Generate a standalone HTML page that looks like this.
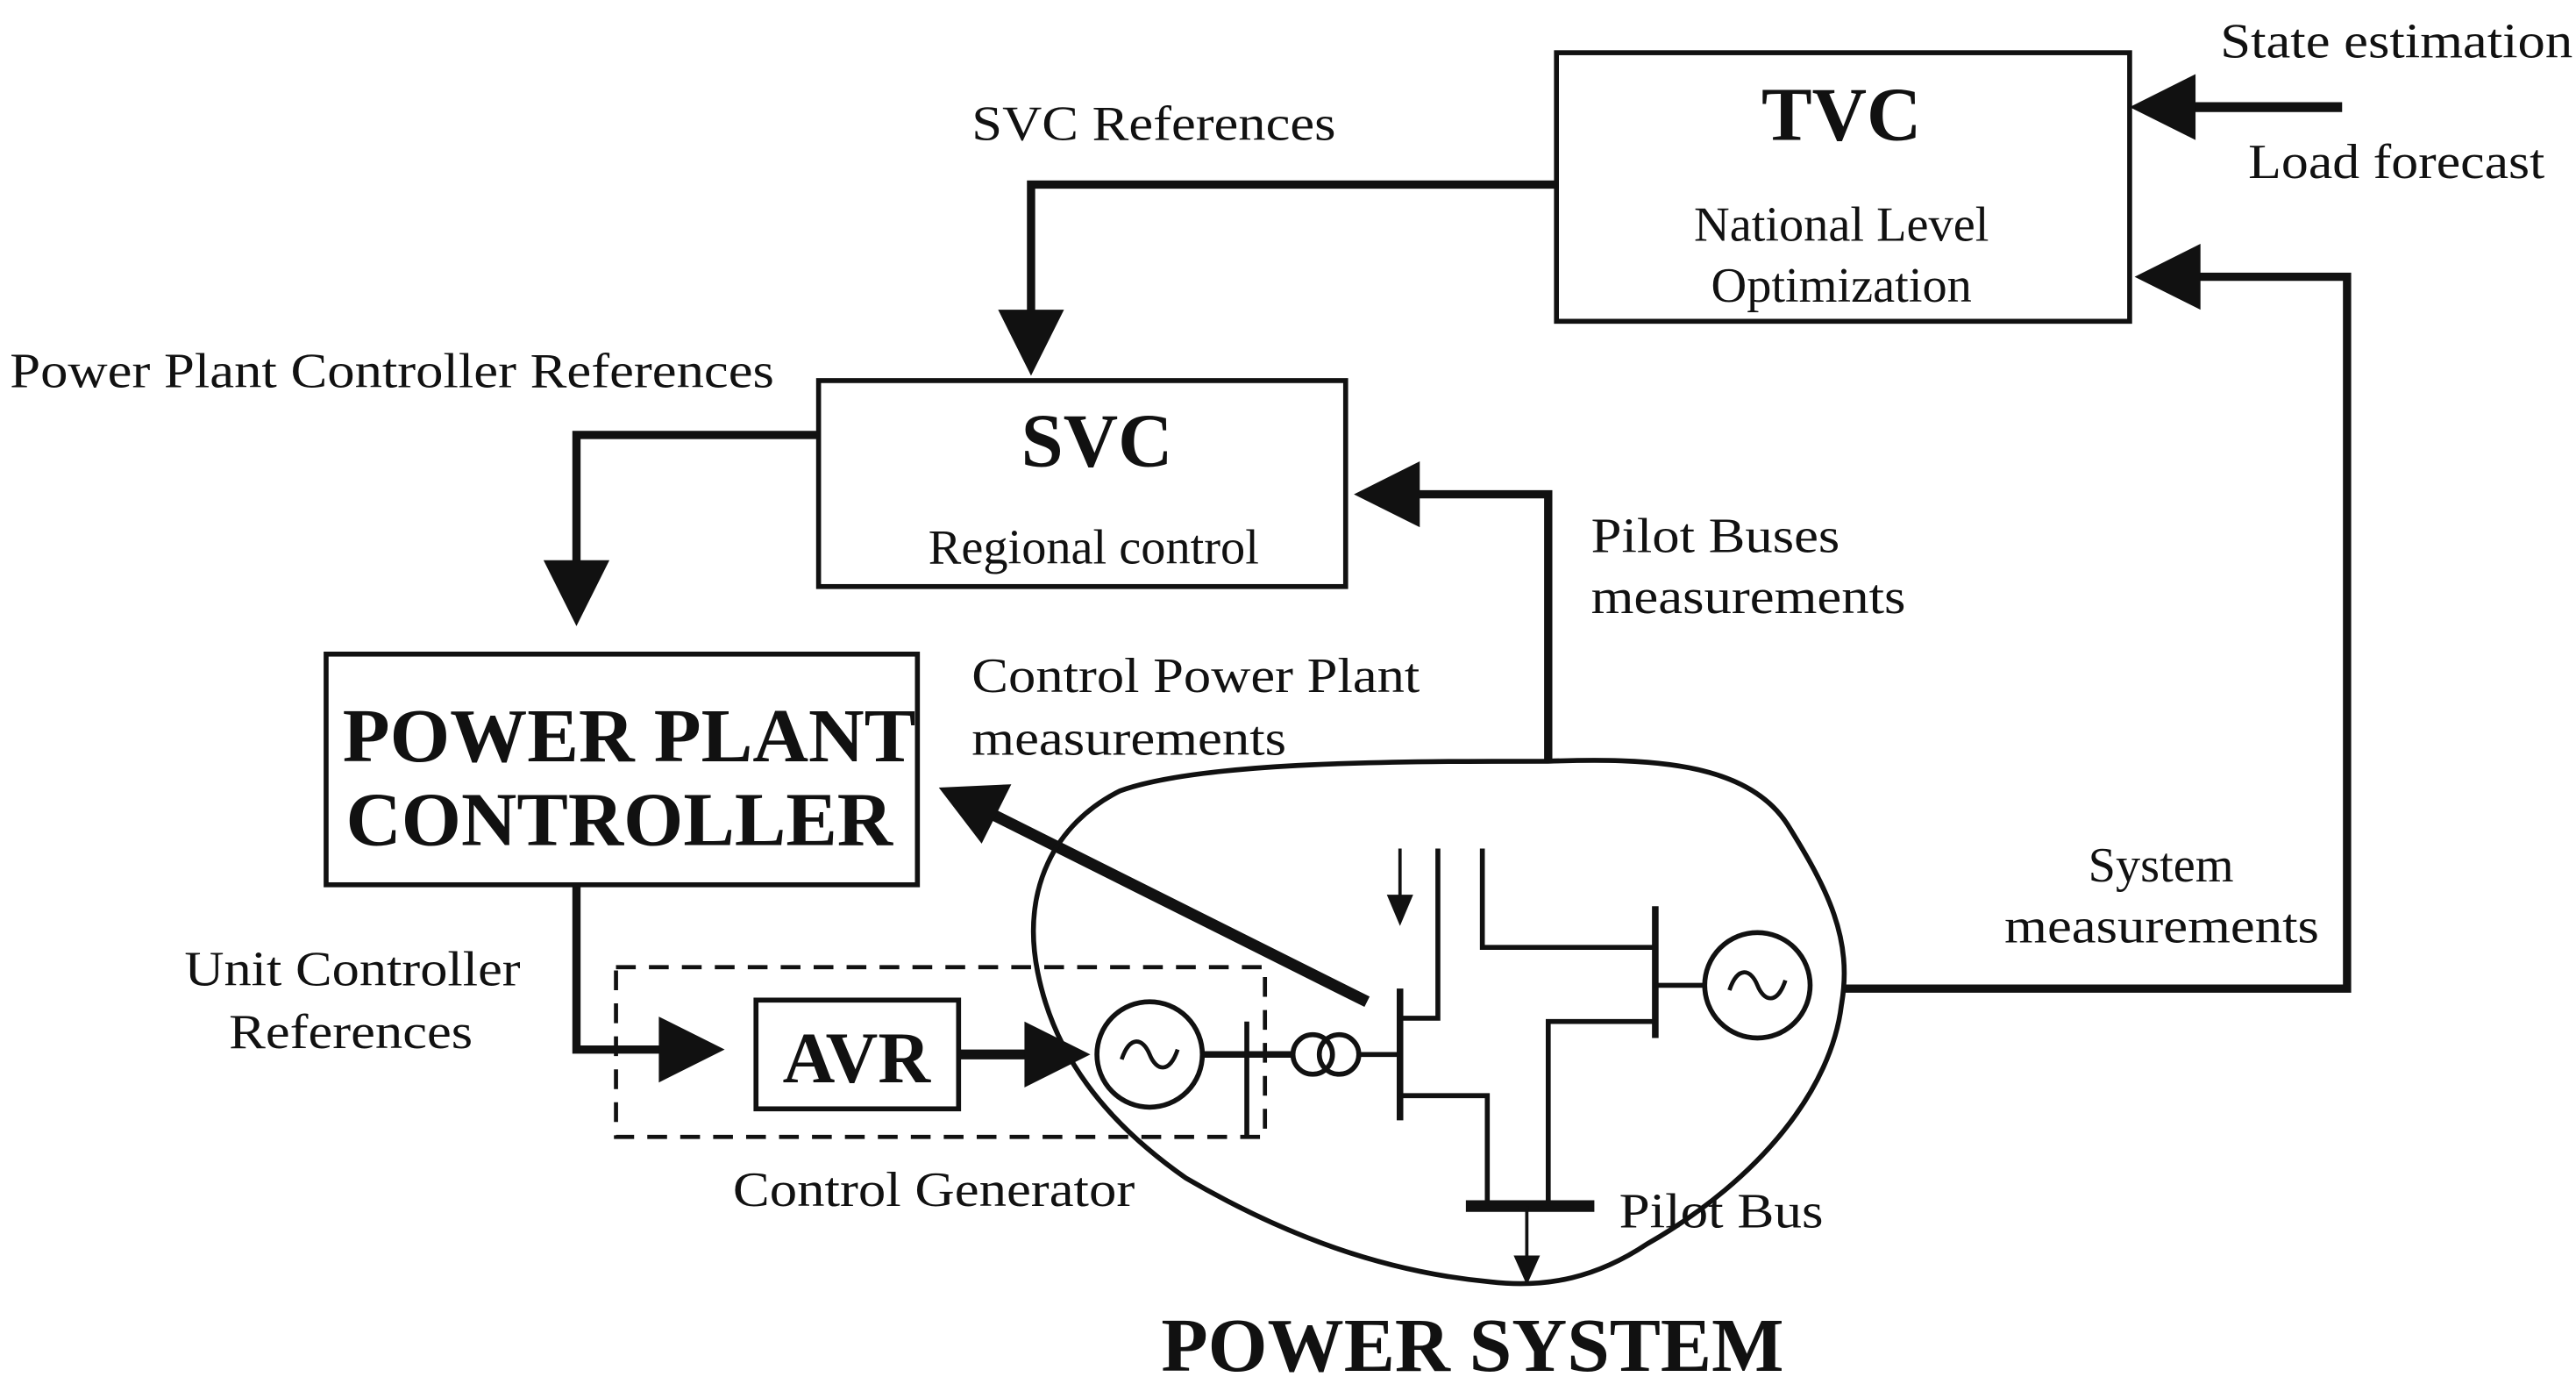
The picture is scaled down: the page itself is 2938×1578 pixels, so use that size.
<!DOCTYPE html>
<html><head><style>html,body{margin:0;padding:0;background:#fff}svg{display:block}</style></head>
<body>
<svg width="2938" height="1578" viewBox="0 0 1564 840" preserveAspectRatio="none" xmlns="http://www.w3.org/2000/svg" font-family="Liberation Serif, serif" fill="#111">
<g fill="none" stroke="#111">
<rect x="945" y="32" width="348" height="163" stroke-width="3"/>
<rect x="497" y="231" width="320" height="125" stroke-width="3"/>
<rect x="198" y="397" width="359" height="140" stroke-width="3"/>
<rect x="459" y="607" width="123" height="66" stroke-width="3"/>
<rect x="374" y="587" width="394" height="103" stroke-width="2.5" stroke-dasharray="12,8"/>
<polyline points="1422,65 1330,65" stroke-width="6"/>
<polyline points="1120,600 1425,600 1425,168 1335,168" stroke-width="5"/>
<polyline points="945,112 626,112 626,190" stroke-width="5"/>
<polyline points="497,264 350,264 350,342" stroke-width="5"/>
<polyline points="940,462 940,300 860,300" stroke-width="5"/>
<polyline points="830,608 600,493" stroke-width="7"/>
<polyline points="350,537 350,637 402,637" stroke-width="5"/>
<polyline points="582,640 625,640" stroke-width="6"/>
<path d="M940,462 C1000,460 1060,462 1085,500 C1110,540 1125,570 1118,610 C1112,660 1070,715 1000,755 C970,775 940,782 905,778 C840,772 780,750 720,715 C670,680 640,640 630,590 C620,540 640,500 680,480 C730,462 850,462 940,462 Z" stroke-width="3"/>
<circle cx="698" cy="640" r="32" stroke-width="3"/>
<path d="M681,643 C686,628 694,630 698,640 C702,650 710,652 715,637" stroke-width="2.5"/>
<polyline points="730,640 785,640" stroke-width="4"/>
<line x1="757" y1="620" x2="757" y2="690" stroke-width="3"/>
<circle cx="797" cy="640" r="12" stroke-width="3"/>
<circle cx="813" cy="640" r="12" stroke-width="3"/>
<line x1="825" y1="640" x2="850" y2="640" stroke-width="3"/>
<line x1="850" y1="600" x2="850" y2="680" stroke-width="4"/>
<polyline points="850,618 873,618 873,515" stroke-width="3"/>
<line x1="850" y1="515" x2="850" y2="545" stroke-width="2"/>
<polyline points="900,515 900,575 1005,575" stroke-width="3"/>
<line x1="1005" y1="550" x2="1005" y2="630" stroke-width="4"/>
<line x1="1005" y1="598" x2="1035" y2="598" stroke-width="3"/>
<circle cx="1067" cy="598" r="32" stroke-width="3"/>
<path d="M1050,601 C1055,586 1063,588 1067,598 C1071,608 1079,610 1084,595" stroke-width="2.5"/>
<polyline points="1005,620 940,620 940,732" stroke-width="3"/>
<polyline points="850,665 903,665 903,732" stroke-width="3"/>
<line x1="890" y1="732" x2="968" y2="732" stroke-width="7"/>
<line x1="927" y1="732" x2="927" y2="765" stroke-width="2"/>
</g>
<polygon points="1293,65 1333,45 1333,85"/>
<polygon points="1296,168 1336,148 1336,188"/>
<polygon points="626,228 606,188 646,188"/>
<polygon points="350,380 330,340 370,340"/>
<polygon points="822,300 862,280 862,320"/>
<polygon points="570,478 614,476 596,512"/>
<polygon points="440,637 400,617 400,657"/>
<polygon points="662,640 622,620 622,660"/>
<polygon points="850,562 842,543 858,543"/>
<polygon points="927,780 919,762 935,762"/>
<g font-size="30">
<text x="1348" y="35" textLength="214" lengthAdjust="spacingAndGlyphs">State estimation</text>
<text x="1365" y="108" textLength="180" lengthAdjust="spacingAndGlyphs">Load forecast</text>
<text x="1118" y="146" text-anchor="middle">National Level</text>
<text x="1118" y="183" text-anchor="middle">Optimization</text>
<text x="590" y="85" textLength="221" lengthAdjust="spacingAndGlyphs">SVC References</text>
<text x="6" y="235" textLength="464" lengthAdjust="spacingAndGlyphs">Power Plant Controller References</text>
<text x="664" y="342" text-anchor="middle">Regional control</text>
<text x="966" y="335" textLength="151" lengthAdjust="spacingAndGlyphs">Pilot Buses</text>
<text x="966" y="372" textLength="191" lengthAdjust="spacingAndGlyphs">measurements</text>
<text x="590" y="420" textLength="272" lengthAdjust="spacingAndGlyphs">Control Power Plant</text>
<text x="590" y="458" textLength="191" lengthAdjust="spacingAndGlyphs">measurements</text>
<text x="1312" y="535" text-anchor="middle">System</text>
<text x="1217" y="572" textLength="191" lengthAdjust="spacingAndGlyphs">measurements</text>
<text x="112" y="598" textLength="204" lengthAdjust="spacingAndGlyphs">Unit Controller</text>
<text x="139" y="636" textLength="148" lengthAdjust="spacingAndGlyphs">References</text>
<text x="445" y="732" textLength="244" lengthAdjust="spacingAndGlyphs">Control Generator</text>
<text x="983" y="745" textLength="124" lengthAdjust="spacingAndGlyphs">Pilot Bus</text>
</g>
<g font-weight="bold">
<text x="1118" y="85" text-anchor="middle" font-size="46">TVC</text>
<text x="666" y="283" text-anchor="middle" font-size="46">SVC</text>
<text x="208" y="462" font-size="46" textLength="348" lengthAdjust="spacingAndGlyphs">POWER PLANT</text>
<text x="210" y="513" font-size="46" textLength="332" lengthAdjust="spacingAndGlyphs">CONTROLLER</text>
<text x="520" y="657" text-anchor="middle" font-size="44">AVR</text>
<text x="705" y="832" font-size="46" textLength="378" lengthAdjust="spacingAndGlyphs">POWER SYSTEM</text>
</g>
</svg>
</body></html>
